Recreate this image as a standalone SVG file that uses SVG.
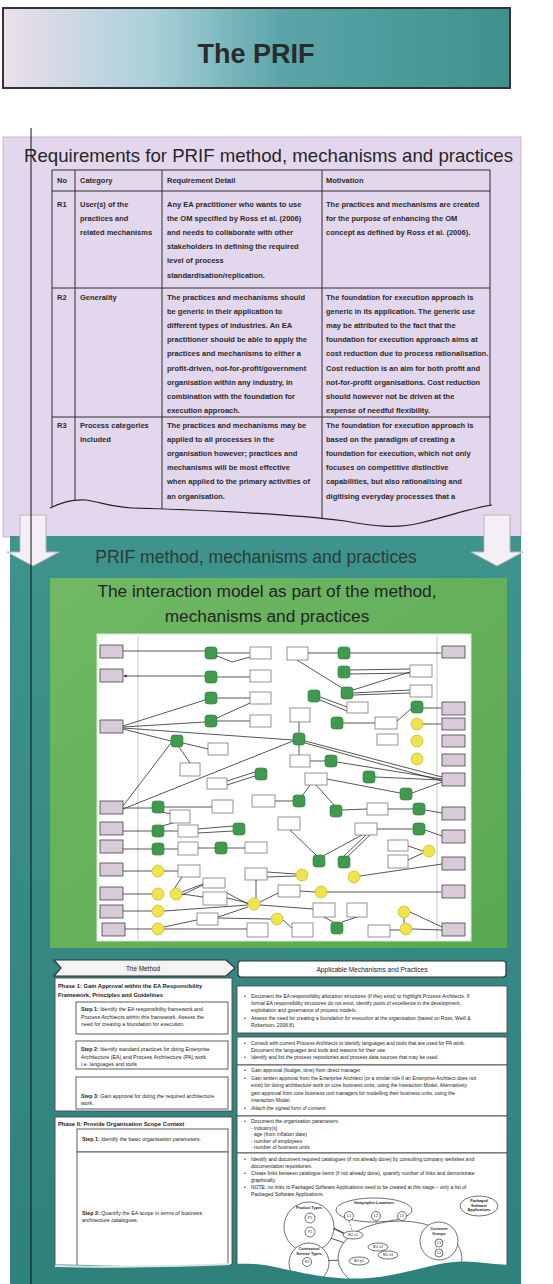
<svg xmlns="http://www.w3.org/2000/svg" width="553" height="1284" viewBox="0 0 553 1284">
<defs>
  <linearGradient id="titleGrad" x1="0" y1="0" x2="1" y2="0">
    <stop offset="0" stop-color="#ece0ec"/>
    <stop offset="0.3" stop-color="#a9cfd9"/>
    <stop offset="0.55" stop-color="#5aa5a9"/>
    <stop offset="1" stop-color="#3e918d"/>
  </linearGradient>
  <linearGradient id="tealGrad" x1="0" y1="0" x2="0" y2="1">
    <stop offset="0" stop-color="#3f938d"/>
    <stop offset="1" stop-color="#2f817b"/>
  </linearGradient>
  <linearGradient id="greenGrad" x1="0" y1="0" x2="1" y2="1">
    <stop offset="0" stop-color="#70b864"/>
    <stop offset="1" stop-color="#5aa853"/>
  </linearGradient>
  <marker id="ah" viewBox="0 0 6 6" refX="5" refY="3" markerWidth="4" markerHeight="4" orient="auto">
    <path d="M0,0 L6,3 L0,6 Z" fill="#222"/>
  </marker>
</defs>
<style>
  .sans { font-family: "Liberation Sans", Arial, sans-serif; }
  .tb { font-family: "Liberation Sans", Arial, sans-serif; font-size: 7.5px; font-weight: bold; fill: #2a2a2a; }
  .grid { fill: none; stroke: #2e2e2e; stroke-width: 1; }
  .pk { fill: #d8cad8; stroke: #444; stroke-width: 0.8; }
  .wb { fill: #ffffff; stroke: #666; stroke-width: 0.7; }
  .gs { fill: #3f9a4d; stroke: #2d7a3a; stroke-width: 0.6; }
  .yc { fill: #efe54a; stroke: #b7a92a; stroke-width: 0.6; }
  .ln { fill: none; stroke: #2b2b2b; stroke-width: 0.8; }
  .lane { stroke: #a0a0a0; stroke-width: 0.6; }
  .box { fill: #ffffff; stroke: #4a4a4a; stroke-width: 0.9; }
  .step { fill: #ffffff; stroke: #6a6a6a; stroke-width: 1.1; }
  .st { font-family: "Liberation Sans", Arial, sans-serif; font-size: 5.3px; fill: #222; }
  .mt { font-family: "Liberation Sans", Arial, sans-serif; font-size: 5px; fill: #222; }
  .ph { font-family: "Liberation Sans", Arial, sans-serif; font-size: 5.8px; font-weight: bold; fill: #222; }
  .cat { fill: #ffffff; stroke: #333; stroke-width: 0.7; }
  .ct { font-family: "Liberation Sans", Arial, sans-serif; font-size: 3.6px; fill: #222; text-anchor: middle; }
  .ctb { font-family: "Liberation Sans", Arial, sans-serif; font-size: 3.8px; font-weight: bold; fill: #222; text-anchor: middle; }
  .dash { fill: none; stroke: #333; stroke-width: 0.6; stroke-dasharray: 2 1.5; }
  .arrow { fill: #f4eff4; stroke: #b9b3b9; stroke-width: 1; }
</style>

<rect x="0" y="0" width="553" height="1284" fill="#ffffff"/>

<!-- title banner -->
<g id="title">
  <rect x="3" y="8" width="507" height="80" fill="url(#titleGrad)" stroke="#333" stroke-width="2"/>
  <text x="256" y="63" text-anchor="middle" class="sans" font-size="27" font-weight="bold" fill="#2a2a2a">The PRIF</text>
</g>

<!-- requirements panel -->
<g id="requirements">
  <rect x="3" y="137" width="518" height="400" fill="#e3d7ed" stroke="#c6b6d4" stroke-width="1"/>
  <text x="24" y="162" class="sans" font-size="18.6" fill="#262626" textLength="489" lengthAdjust="spacingAndGlyphs">Requirements for PRIF method, mechanisms and practices</text>

  <g id="req-table">
    <rect x="52" y="170" width="438" height="360" fill="#e3d7ed"/>
    <path class="grid" d="M52,170 H490 M52,191 H490 M52,288 H490 M52,417 H490 M52,170 V530 M75,170 V530 M162,170 V530 M322,170 V530 M490,170 V530"/>

    <text class="tb" y="183"><tspan x="57">No</tspan><tspan x="80">Category</tspan><tspan x="167">Requirement Detail</tspan><tspan x="326">Motivation</tspan></text>

    <text class="tb" x="57" y="207">R1</text>
    <text class="tb"><tspan x="80" y="207">User(s) of the</tspan><tspan x="80" y="221.1">practices and</tspan><tspan x="80" y="235.2">related mechanisms</tspan></text>
    <text class="tb"><tspan x="167" y="207">Any EA practitioner who wants to use</tspan><tspan x="167" y="221.1">the OM specified by Ross et al. (2006)</tspan><tspan x="167" y="235.2">and needs to collaborate with other</tspan><tspan x="167" y="249.3">stakeholders in defining the required</tspan><tspan x="167" y="263.4">level of process</tspan><tspan x="167" y="277.5">standardisation/replication.</tspan></text>
    <text class="tb"><tspan x="326" y="207">The practices and mechanisms are created</tspan><tspan x="326" y="221.1">for the purpose of enhancing the OM</tspan><tspan x="326" y="235.2">concept as defined by Ross et al. (2006).</tspan></text>

    <text class="tb" x="57" y="300">R2</text>
    <text class="tb" x="80" y="300">Generality</text>
    <text class="tb"><tspan x="167" y="300">The practices and mechanisms should</tspan><tspan x="167" y="314.1">be generic in their application to</tspan><tspan x="167" y="328.2">different types of industries. An EA</tspan><tspan x="167" y="342.3">practitioner should be able to apply the</tspan><tspan x="167" y="356.4">practices and mechanisms to either a</tspan><tspan x="167" y="370.5">profit-driven, not-for-profit/government</tspan><tspan x="167" y="384.6">organisation within any industry, in</tspan><tspan x="167" y="398.7">combination with the foundation for</tspan><tspan x="167" y="412.8">execution approach.</tspan></text>
    <text class="tb"><tspan x="326" y="300">The foundation for execution approach is</tspan><tspan x="326" y="314.1">generic in its application. The generic use</tspan><tspan x="326" y="328.2">may be attributed to the fact that the</tspan><tspan x="326" y="342.3">foundation for execution approach aims at</tspan><tspan x="326" y="356.4">cost reduction due to process rationalisation.</tspan><tspan x="326" y="370.5">Cost reduction is an aim for both profit and</tspan><tspan x="326" y="384.6">not-for-profit organisations. Cost reduction</tspan><tspan x="326" y="398.7">should however not be driven at the</tspan><tspan x="326" y="412.8">expense of needful flexibility.</tspan></text>

    <text class="tb" x="57" y="428">R3</text>
    <text class="tb"><tspan x="80" y="428">Process categories</tspan><tspan x="80" y="442.1">included</tspan></text>
    <text class="tb"><tspan x="167" y="428">The practices and mechanisms may be</tspan><tspan x="167" y="442.1">applied to all processes in the</tspan><tspan x="167" y="456.2">organisation however; practices and</tspan><tspan x="167" y="470.3">mechanisms will be most effective</tspan><tspan x="167" y="484.4">when applied to the primary activities of</tspan><tspan x="167" y="498.5">an organisation.</tspan></text>
    <text class="tb"><tspan x="326" y="428">The foundation for execution approach is</tspan><tspan x="326" y="442.1">based on the paradigm of creating a</tspan><tspan x="326" y="456.2">foundation for execution, which not only</tspan><tspan x="326" y="470.3">focuses on competitive distinctive</tspan><tspan x="326" y="484.4">capabilities, but also rationalising and</tspan><tspan x="326" y="498.5">digitising everyday processes that a</tspan></text>

    <!-- torn lower edge of the table -->
    <path d="M50,508 C62,502 74,499 86,500 C100,502 112,507 132,508 C200,510 290,514 345,521 C372,526 396,529 420,523 C450,516 470,508 492,505 L492,537 L50,537 Z" fill="#e3d7ed"/>
    <path d="M50,508 C62,502 74,499 86,500 C100,502 112,507 132,508 C200,510 290,514 345,521 C372,526 396,529 420,523 C450,516 470,508 492,505" fill="none" stroke="#222" stroke-width="1.2"/>
  </g>
</g>

<!-- lower teal panel -->
<g id="method-panel">
  <rect x="10" y="536" width="511" height="748" fill="url(#tealGrad)"/>
  <text x="256" y="563" text-anchor="middle" class="sans" font-size="17.6" fill="#2c3a38">PRIF method, mechanisms and practices</text>
</g>

<!-- flow arrows between the panels -->
<g id="arrow-left">
  <path class="arrow" d="M20,515 H46 V552 H59 L33,566 L7,552 H20 Z"/>
</g>
<g id="arrow-right">
  <path class="arrow" d="M484,515 H510 V552 H523 L497,566 L471,552 H484 Z"/>
</g>

<!-- interaction model panel -->
<g id="interaction-panel">
  <rect x="50" y="578" width="457" height="370" fill="url(#greenGrad)"/>
  <text x="267" y="597" text-anchor="middle" class="sans" font-size="17.3" fill="#242424">The interaction model as part of the method,</text>
  <text x="267" y="622" text-anchor="middle" class="sans" font-size="17.3" fill="#242424">mechanisms and practices</text>
  <rect x="97" y="634" width="374" height="307" fill="#ffffff" stroke="#d8e8d0" stroke-width="1"/>
  <line class="lane" x1="138" y1="636" x2="138" y2="940"/>
  <line class="lane" x1="437" y1="636" x2="437" y2="940"/>
</g>

<!-- interaction model connectors -->
<g id="im-connectors">
  <path class="ln" d="M123,651 H205 M217,653 H250 M217,656 L232,662 L250,657"/>
  <path class="ln" d="M205,676 H124" marker-end="url(#ah)"/>
  <path class="ln" d="M217,677 H250"/>
  <path class="ln" d="M123,726 L205,700 M123,727 L205,722 M123,729 L171,741 M123,728 L293,740"/>
  <path class="ln" d="M217,698 H250 M217,721 H250 M217,718 L250,703"/>
  <path class="ln" d="M308,653 H338 M350,653 H441"/>
  <path class="ln" d="M297,660 L342,688"/>
  <path class="ln" d="M350,670 L410,669 M350,674 L410,673 M353,690 L410,672 M353,693 L410,690 M353,695 L410,693"/>
  <path class="ln" d="M320,697 L347,707 M320,700 L347,711"/>
  <path class="ln" d="M343,723 H375 M397,721 L411,709 M423,708 H441 M423,724 H441"/>
  <path class="ln" d="M299,722 V733"/>
  <path class="ln" d="M305,741 L442,777 M305,743 L442,781 M171,743 L123,806 M293,741 L123,809"/>
  <path class="ln" d="M183,743 L208,749 M179,747 L190,763"/>
  <path class="ln" d="M299,745 V755 M310,761 H325 M337,762 L442,779 M375,777 L442,780"/>
  <path class="ln" d="M327,779 L400,793 M412,793 L442,782 M316,785 L334,805"/>
  <path class="ln" d="M275,801 H293 M302,796 L310,785"/>
  <path class="ln" d="M255,772 L227,781 M255,776 L227,785"/>
  <path class="ln" d="M123,808 H152 M164,807 H212 M162,812 L180,816"/>
  <path class="ln" d="M342,810 L367,809 M388,809 H413 M425,810 L442,813"/>
  <path class="ln" d="M152,831 H123 M164,831 H178 M198,829 L233,826 M198,833 L233,831 M162,826 L180,821"/>
  <path class="ln" d="M377,829 H413 M425,830 L442,836"/>
  <path class="ln" d="M290,830 L316,855 M362,835 L323,856 M366,835 L344,856 M370,835 L348,856"/>
  <path class="ln" d="M152,849 H123 M164,849 H178 M198,848 H215 M227,848 H245"/>
  <path class="ln" d="M408,846 L423,851 M408,860 L423,853"/>
  <path class="ln" d="M360,876 L442,864"/>
  <path class="ln" d="M152,871 H123 M164,871 H178 M182,877 L174,889 M203,884 L182,892"/>
  <path class="ln" d="M152,894 H123 M182,894 L203,897 M182,895 L203,885"/>
  <path class="ln" d="M267,872 L296,874 M267,877 L296,876"/>
  <path class="ln" d="M256,880 V898"/>
  <path class="ln" d="M260,902 L278,893 M260,905 L313,909 M248,903 L227,898 M248,905 L164,911 M248,907 L218,917 M248,904 L227,893"/>
  <path class="ln" d="M300,891 L315,892 M327,892 H441"/>
  <path class="ln" d="M152,911 H123 M152,929 H125 M164,929 H247 M164,927 L197,920"/>
  <path class="ln" d="M218,918 L271,919 M283,920 L292,928"/>
  <path class="ln" d="M324,917 L333,922 M357,917 L342,922"/>
  <path class="ln" d="M390,930 H400 M412,929 L442,930 M410,912 L442,927 M404,918 V923"/>
</g>

<!-- interaction model nodes: external parties (left and right lanes) -->
<g id="im-left">
  <rect class="pk" x="100" y="645" width="23" height="13"/>
  <rect class="pk" x="100" y="669" width="23" height="13"/>
  <rect class="pk" x="100" y="720" width="23" height="13"/>
  <rect class="pk" x="100" y="801" width="23" height="13"/>
  <rect class="pk" x="100" y="822" width="23" height="13"/>
  <rect class="pk" x="100" y="840" width="23" height="13"/>
  <rect class="pk" x="100" y="863" width="23" height="13"/>
  <rect class="pk" x="100" y="887" width="23" height="13"/>
  <rect class="pk" x="100" y="905" width="23" height="13"/>
  <rect class="pk" x="102" y="923" width="23" height="13"/>
</g>
<g id="im-right">
  <rect class="pk" x="442" y="646" width="23" height="12"/>
  <rect class="pk" x="442" y="702" width="23" height="13"/>
  <rect class="pk" x="442" y="718" width="23" height="12"/>
  <rect class="pk" x="442" y="735" width="23" height="12"/>
  <rect class="pk" x="442" y="754" width="23" height="12"/>
  <rect class="pk" x="442" y="773" width="23" height="13"/>
  <rect class="pk" x="442" y="807" width="23" height="13"/>
  <rect class="pk" x="442" y="830" width="23" height="13"/>
  <rect class="pk" x="442" y="857" width="23" height="13"/>
  <rect class="pk" x="442" y="885" width="23" height="13"/>
  <rect class="pk" x="442" y="923" width="23" height="13"/>
</g>

<!-- interaction model nodes: information objects -->
<g id="im-objects">
  <rect class="wb" x="250" y="647" width="21" height="12"/>
  <rect class="wb" x="250" y="670" width="21" height="12"/>
  <rect class="wb" x="250" y="692" width="21" height="12"/>
  <rect class="wb" x="250" y="715" width="21" height="12"/>
  <rect class="wb" x="287" y="647" width="21" height="13"/>
  <rect class="wb" x="410" y="665" width="22" height="12"/>
  <rect class="wb" x="410" y="685" width="22" height="12"/>
  <rect class="wb" x="347" y="702" width="21" height="11"/>
  <rect class="wb" x="290" y="708" width="20" height="14"/>
  <rect class="wb" x="375" y="717" width="22" height="12"/>
  <rect class="wb" x="377" y="734" width="21" height="11"/>
  <rect class="wb" x="208" y="743" width="20" height="12"/>
  <rect class="wb" x="180" y="763" width="20" height="13"/>
  <rect class="wb" x="290" y="755" width="20" height="12"/>
  <rect class="wb" x="207" y="778" width="20" height="11"/>
  <rect class="wb" x="305" y="773" width="22" height="12"/>
  <rect class="wb" x="252" y="795" width="23" height="12"/>
  <rect class="wb" x="212" y="800" width="21" height="13"/>
  <rect class="wb" x="170" y="810" width="20" height="13"/>
  <rect class="wb" x="367" y="803" width="21" height="12"/>
  <rect class="wb" x="278" y="817" width="22" height="13"/>
  <rect class="wb" x="355" y="823" width="22" height="12"/>
  <rect class="wb" x="178" y="825" width="20" height="12"/>
  <rect class="wb" x="178" y="842" width="20" height="13"/>
  <rect class="wb" x="245" y="842" width="22" height="11"/>
  <rect class="wb" x="388" y="840" width="20" height="11"/>
  <rect class="wb" x="388" y="855" width="20" height="13"/>
  <rect class="wb" x="178" y="865" width="22" height="12"/>
  <rect class="wb" x="245" y="868" width="22" height="12"/>
  <rect class="wb" x="203" y="878" width="22" height="10"/>
  <rect class="wb" x="278" y="885" width="22" height="12"/>
  <rect class="wb" x="203" y="892" width="24" height="13"/>
  <rect class="wb" x="313" y="903" width="22" height="14"/>
  <rect class="wb" x="347" y="903" width="20" height="14"/>
  <rect class="wb" x="197" y="913" width="21" height="12"/>
  <rect class="wb" x="247" y="923" width="21" height="14"/>
  <rect class="wb" x="292" y="923" width="21" height="14"/>
  <rect class="wb" x="368" y="925" width="22" height="12"/>
</g>

<!-- interaction model nodes: interactions -->
<g id="im-interactions">
  <rect class="gs" x="205" y="647" width="12" height="12" rx="3"/>
  <rect class="gs" x="205" y="671" width="12" height="12" rx="3"/>
  <rect class="gs" x="205" y="692" width="12" height="12" rx="3"/>
  <rect class="gs" x="205" y="715" width="12" height="12" rx="3"/>
  <rect class="gs" x="171" y="735" width="12" height="12" rx="3"/>
  <rect class="gs" x="293" y="733" width="12" height="12" rx="3"/>
  <rect class="gs" x="338" y="647" width="12" height="12" rx="3"/>
  <rect class="gs" x="338" y="666" width="12" height="12" rx="3"/>
  <rect class="gs" x="341" y="687" width="12" height="12" rx="3"/>
  <rect class="gs" x="308" y="690" width="12" height="12" rx="3"/>
  <rect class="gs" x="331" y="717" width="12" height="12" rx="3"/>
  <rect class="gs" x="411" y="701" width="12" height="12" rx="3"/>
  <rect class="gs" x="325" y="755" width="12" height="12" rx="3"/>
  <rect class="gs" x="255" y="768" width="12" height="12" rx="3"/>
  <rect class="gs" x="363" y="771" width="12" height="12" rx="3"/>
  <rect class="gs" x="400" y="788" width="12" height="12" rx="3"/>
  <rect class="gs" x="293" y="795" width="12" height="12" rx="3"/>
  <rect class="gs" x="152" y="801" width="12" height="12" rx="3"/>
  <rect class="gs" x="330" y="805" width="12" height="12" rx="3"/>
  <rect class="gs" x="413" y="803" width="12" height="12" rx="3"/>
  <rect class="gs" x="152" y="825" width="12" height="12" rx="3"/>
  <rect class="gs" x="233" y="823" width="12" height="12" rx="3"/>
  <rect class="gs" x="413" y="823" width="12" height="12" rx="3"/>
  <rect class="gs" x="152" y="843" width="12" height="12" rx="3"/>
  <rect class="gs" x="215" y="842" width="12" height="12" rx="3"/>
  <rect class="gs" x="313" y="855" width="12" height="12" rx="3"/>
  <rect class="gs" x="338" y="856" width="12" height="12" rx="3"/>
  <rect class="gs" x="331" y="922" width="12" height="12" rx="3"/>
  <circle class="yc" cx="417" cy="724" r="6"/>
  <circle class="yc" cx="417" cy="741" r="6"/>
  <circle class="yc" cx="417" cy="759" r="6"/>
  <circle class="yc" cx="429" cy="851" r="6"/>
  <circle class="yc" cx="158" cy="871" r="6"/>
  <circle class="yc" cx="302" cy="875" r="6"/>
  <circle class="yc" cx="354" cy="877" r="6"/>
  <circle class="yc" cx="158" cy="894" r="6"/>
  <circle class="yc" cx="176" cy="894" r="6"/>
  <circle class="yc" cx="321" cy="892" r="6"/>
  <circle class="yc" cx="254" cy="904" r="6"/>
  <circle class="yc" cx="158" cy="911" r="6"/>
  <circle class="yc" cx="404" cy="912" r="6"/>
  <circle class="yc" cx="277" cy="919" r="6"/>
  <circle class="yc" cx="158" cy="929" r="6"/>
  <circle class="yc" cx="406" cy="929" r="6"/>
</g>

<!-- the method column -->
<g id="method-banner">
  <path d="M54,960 H226 L235,968 L226,976 H54 L61,968 Z" fill="#f3f3f3" stroke="#333" stroke-width="1.2"/>
  <text x="143" y="970.5" text-anchor="middle" class="sans" font-size="6.4" fill="#222">The Method</text>
</g>
<g id="phase-1">
  <rect class="box" x="55" y="978" width="177" height="133"/>
  <text class="ph"><tspan x="58" y="988">Phase 1: Gain Approval within the EA Responsibility</tspan><tspan x="58" y="996.5">Framework, Principles and Guidelines</tspan></text>
</g>
<g id="phase-1-step-1">
  <rect class="step" x="76" y="1002" width="152" height="32"/>
  <text class="st"><tspan x="81" y="1011"><tspan font-weight="bold">Step 1:</tspan> Identify the EA responsibility framework and</tspan><tspan x="81" y="1018.5">Process Architects within this framework. Assess the</tspan><tspan x="81" y="1026">need for creating a foundation for execution.</tspan></text>
</g>
<g id="phase-1-step-2">
  <rect class="step" x="76" y="1041" width="152" height="28"/>
  <text class="st"><tspan x="81" y="1051"><tspan font-weight="bold">Step 2:</tspan> Identify standard practices for doing Enterprise</tspan><tspan x="81" y="1058.5">Architecture (EA) and Process Architecture (PA) work</tspan><tspan x="81" y="1066">i.e. languages and tools</tspan></text>
</g>
<g id="phase-1-step-3">
  <rect class="step" x="76" y="1077" width="152" height="32"/>
  <text class="st"><tspan x="81" y="1098"><tspan font-weight="bold">Step 3:</tspan> Gain approval for doing the required architecture</tspan><tspan x="81" y="1105">work.</tspan></text>
</g>
<g id="phase-2">
  <rect class="box" x="55" y="1117" width="177" height="167"/>
  <text class="ph" x="58" y="1126">Phase II: Provide Organisation Scope Context</text>
</g>
<g id="phase-2-step-1">
  <rect class="step" x="77" y="1129" width="151" height="23"/>
  <text class="st" x="82" y="1141"><tspan font-weight="bold">Step 1:</tspan> Identify the basic organisation parameters.</text>
</g>
<g id="phase-2-step-2">
  <rect class="step" x="77" y="1152" width="151" height="132"/>
  <text class="st"><tspan x="82" y="1215"><tspan font-weight="bold">Step 2:</tspan> Quantify the EA scope in terms of business</tspan><tspan x="82" y="1221.5">architecture catalogues.</tspan></text>
</g>

<!-- mechanisms and practices column -->
<g id="mechanisms-banner">
  <rect x="238" y="961" width="268" height="16" rx="3" fill="#ffffff" stroke="#333" stroke-width="1.2"/>
  <text x="372" y="971.5" text-anchor="middle" class="sans" font-size="6.6" fill="#222">Applicable Mechanisms and Practices</text>
</g>
<g id="mech-1">
  <rect class="box" x="237" y="986" width="270" height="47"/>
  <text class="mt"><tspan x="244" y="998">•</tspan><tspan x="251" y="998">Document the EA responsibility allocation structures (if they exist) to highlight Process Architects. If</tspan><tspan x="251" y="1005">formal EA responsibility structures do not exist, identify pools of excellence in the development,</tspan><tspan x="251" y="1012">exploitation and governance of process models.</tspan><tspan x="244" y="1020">•</tspan><tspan x="251" y="1020">Assess the need for creating a <tspan font-style="italic">foundation for execution</tspan> at the organisation (based on Ross, Weill &amp;</tspan><tspan x="251" y="1027">Robertson, 2006:8).</tspan></text>
</g>
<g id="mech-2">
  <rect class="box" x="237" y="1037" width="270" height="28"/>
  <text class="mt"><tspan x="244" y="1045">•</tspan><tspan x="251" y="1045">Consult with current Process Architects to identify languages and tools that are used for PA work.</tspan><tspan x="251" y="1052">Document the languages and tools and reasons for their use.</tspan><tspan x="244" y="1059">•</tspan><tspan x="251" y="1059">Identify and list the process repositories and process data sources that may be used.</tspan></text>
</g>
<g id="mech-3">
  <rect class="box" x="237" y="1065" width="270" height="51"/>
  <text class="mt"><tspan x="244" y="1072">•</tspan><tspan x="251" y="1072">Gain approval (budget, time) from direct manager</tspan><tspan x="244" y="1079.5">•</tspan><tspan x="251" y="1079.5">Gain written approval from the Enterprise Architect (or a similar role if an Enterprise Architect does not</tspan><tspan x="251" y="1087">exist) for doing architecture work on core business units, using the Interaction Model. Alternatively</tspan><tspan x="251" y="1094.5">gain approval from core business unit managers for modelling their business units, using the</tspan><tspan x="251" y="1102">Interaction Model.</tspan><tspan x="244" y="1109.5">•</tspan><tspan x="251" y="1109.5" font-style="italic">Attach the signed form of consent</tspan></text>
</g>
<g id="mech-4">
  <rect class="box" x="237" y="1116" width="270" height="37"/>
  <text class="mt"><tspan x="244" y="1123">•</tspan><tspan x="251" y="1123">Document the organisation parameters:</tspan><tspan x="251" y="1129.5">- industry(s)</tspan><tspan x="251" y="1136">- age (from inflation date)</tspan><tspan x="251" y="1142.5">- number of employees</tspan><tspan x="251" y="1149">- number of business units</tspan></text>
</g>
<g id="mech-5">
  <rect class="box" x="237" y="1153" width="270" height="131"/>
  <text class="mt"><tspan x="244" y="1161">•</tspan><tspan x="251" y="1161">Identify and document required catalogues (if not already done) by consulting company websites and</tspan><tspan x="251" y="1167.5">documentation repositories.</tspan><tspan x="244" y="1175">•</tspan><tspan x="251" y="1175">Create links between catalogue items (if not already done), quantify number of links and demonstrate</tspan><tspan x="251" y="1181.5">graphically.</tspan><tspan x="244" y="1189">•</tspan><tspan x="251" y="1189">NOTE: no links to Packaged Software Applications need to be created at this stage – only a list of</tspan><tspan x="251" y="1195.5">Packaged Software Applications.</tspan></text>
</g>

<!-- catalogue sketch -->
<g id="cat-links">
  <path class="ln" d="M315,1219 L344,1233 M315,1220 L368,1245 M314,1233 L377,1253 M312,1261 L349,1260" stroke-width="0.6"/>
  <path class="dash" d="M349,1221 L352,1230 M376,1221 L378,1242 M401,1221 L390,1250 M399,1221 L362,1256"/>
</g>
<g id="cat-business">
  <ellipse class="cat" cx="400" cy="1258" rx="62" ry="37"/>
</g>
<g id="cat-geo">
  <ellipse class="cat" cx="374" cy="1210" rx="38" ry="12"/>
  <text class="ctb" x="374" y="1204">Geographic Locations</text>
  <circle class="cat" cx="349" cy="1216" r="4.5"/><text class="ct" x="349" y="1217.3">L1</text>
  <circle class="cat" cx="376" cy="1216" r="4.5"/><text class="ct" x="376" y="1217.3">L2</text>
  <circle class="cat" cx="402" cy="1216" r="4.5"/><text class="ct" x="402" y="1217.3">L3</text>
</g>
<g id="cat-product">
  <circle class="cat" cx="309" cy="1227" r="25" fill="none"/>
  <text class="ctb" x="309" y="1209">Product Types</text>
  <circle class="cat" cx="310" cy="1218" r="5"/><text class="ct" x="310" y="1219.3">P1</text>
  <circle class="cat" cx="310" cy="1232" r="5"/><text class="ct" x="310" y="1233.3">P2</text>
</g>
<g id="cat-service">
  <circle class="cat" cx="309" cy="1263" r="20"/>
  <text class="ctb"><tspan x="309" y="1250">Contractual</tspan><tspan x="309" y="1255">Service Types</tspan></text>
  <circle class="cat" cx="307" cy="1262" r="4.5"/><text class="ct" x="307" y="1263.3">S1</text>
</g>
<g id="cat-units">
  <ellipse class="cat" cx="353" cy="1235" rx="10" ry="4"/><text class="ct" x="353" y="1236.3">BU s1</text>
  <ellipse class="cat" cx="378" cy="1247" rx="10" ry="4"/><text class="ct" x="378" y="1248.3">BU s2</text>
  <ellipse class="cat" cx="388" cy="1255" rx="10" ry="4"/><text class="ct" x="388" y="1256.3">BU s3</text>
  <ellipse class="cat" cx="359" cy="1261" rx="10" ry="4"/><text class="ct" x="359" y="1262.3">BU p1</text>
</g>
<g id="cat-customer">
  <circle class="cat" cx="439" cy="1241" r="19"/>
  <text class="ctb"><tspan x="439" y="1230">Customer</tspan><tspan x="439" y="1235">Groups</tspan></text>
  <circle class="cat" cx="439" cy="1243" r="4"/><text class="ct" x="439" y="1244.3">C1</text>
  <circle class="cat" cx="439" cy="1253" r="4"/><text class="ct" x="439" y="1254.3">C2</text>
</g>
<g id="cat-packaged">
  <ellipse class="cat" cx="479" cy="1206" rx="19" ry="10"/>
  <text class="ctb"><tspan x="479" y="1202">Packaged</tspan><tspan x="479" y="1206.5">Software</tspan><tspan x="479" y="1211">Applications</tspan></text>
</g>

<!-- torn lower edge of the method sheet -->
<g id="torn-edge">
  <path d="M10,1266 C60,1262 120,1268 180,1266 C230,1264 250,1262 270,1266 C300,1272 330,1281 370,1278 C410,1275 440,1258 475,1262 C495,1264 510,1266 521,1264 L521,1284 L10,1284 Z" fill="#2f817b"/>
  <path d="M55,1266 C120,1268 180,1266 230,1264" fill="none" stroke="#d9e6e4" stroke-width="2"/>
</g>

<!-- margin rule -->
<line x1="31" y1="128" x2="31" y2="1284" stroke="#111" stroke-width="1"/>
</svg>
